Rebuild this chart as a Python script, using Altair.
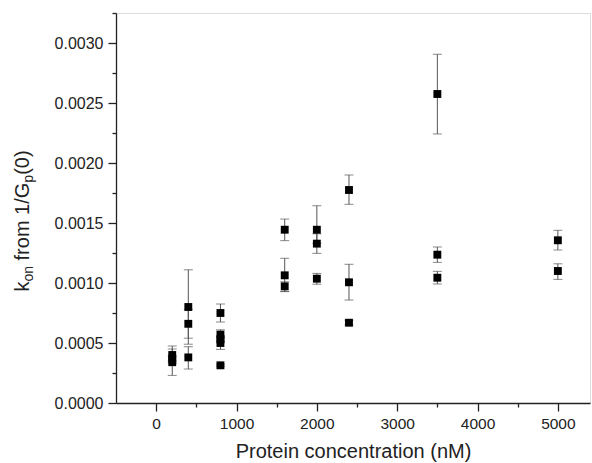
import altair as alt
import pandas as pd

conc = [200, 200, 200, 400, 400, 400, 800, 800, 800, 800, 800,
        1600, 1600, 1600, 2000, 2000, 2000, 2400, 2400, 2400,
        3500, 3500, 3500, 5000, 5000]
kon = [0.00040, 0.00037, 0.00034, 0.00080, 0.00066, 0.00038,
       0.00075, 0.00057, 0.00053, 0.00050, 0.000314,
       0.001444, 0.001064, 0.000972, 0.001444, 0.001328, 0.001036,
       0.001775, 0.001006, 0.000669, 0.002575, 0.001236, 0.001044,
       0.001356, 0.00110]
kon_lo = [0.00033, 0.00035, 0.00023, 0.00049, 0.00054, 0.000283,
          0.000675, 0.00054, 0.00051, 0.000447, 0.000305,
          0.001353, 0.00093, 0.000928, 0.00133, 0.001247, 0.00099,
          0.001656, 0.000858, 0.00065, 0.002242, 0.001172, 0.000992,
          0.001275, 0.00103]
kon_hi = [0.000475, 0.00039, 0.00045, 0.00111, 0.00078, 0.000469,
          0.000825, 0.00061, 0.00056, 0.00055, 0.000323,
          0.001533, 0.001206, 0.00101, 0.001644, 0.00141, 0.00108,
          0.0019, 0.001156, 0.00069, 0.002906, 0.0013, 0.001097,
          0.001439, 0.00116]

x_major = [0, 1000, 2000, 3000, 4000, 5000]
x_minor = [500, 1500, 2500, 3500, 4500]
y_major = [0.0, 0.0005, 0.0010, 0.0015, 0.0020, 0.0025, 0.0030]
y_minor = [0.00025, 0.00075, 0.00125, 0.00175, 0.00225, 0.00275, 0.00325]

df = pd.DataFrame({"conc": conc, "kon": kon, "lo": kon_lo, "hi": kon_hi})

FONT = "Liberation Sans"
xs = alt.Scale(domain=[-500, 5400], nice=False, zero=False)
ys = alt.Scale(domain=[0, 0.00325], nice=False, zero=False)

base = alt.Chart(df)

x_major_axis = alt.Axis(orient="bottom", values=x_major, format="d", tickSize=8,
                        tickWidth=1.3, domainWidth=1.3, domainColor="#222",
                        tickColor="#222", labelFontSize=15.5, labelFont=FONT,
                        labelColor="#222", labelPadding=5,
                        title="Protein concentration (nM)", titleFont=FONT,
                        titleFontSize=20, titleFontWeight="normal", titleColor="#222",
                        titlePadding=10, grid=False, labelFlush=False)
y_major_axis = alt.Axis(orient="left", values=y_major, format=".4f", tickSize=8,
                        tickWidth=1.3, domainWidth=1.3, domainColor="#222",
                        tickColor="#222", labelFontSize=16, labelFont=FONT,
                        labelColor="#222", labelPadding=5, title=None, grid=False,
                        labelFlush=False)
x_minor_axis = alt.Axis(orient="bottom", values=x_minor, tickSize=4, tickWidth=1.3,
                        domain=False, tickColor="#222", labels=False, title=None, grid=False)
y_minor_axis = alt.Axis(orient="left", values=y_minor, tickSize=4, tickWidth=1.3,
                        domain=False, tickColor="#222", labels=False, title=None, grid=False)

points = base.mark_square(size=62, color="black", opacity=1).encode(
    x=alt.X("conc:Q", scale=xs, axis=x_major_axis),
    y=alt.Y("kon:Q", scale=ys, axis=y_major_axis),
)
rules = base.mark_rule(color="#555", strokeWidth=1).encode(
    x=alt.X("conc:Q", scale=xs, axis=x_minor_axis),
    y=alt.Y("lo:Q", scale=ys, axis=y_minor_axis),
    y2="hi:Q",
)
cap_lo = base.mark_tick(color="#555", orient="horizontal", size=9, thickness=1).encode(
    x=alt.X("conc:Q", scale=xs, axis=None),
    y=alt.Y("lo:Q", scale=ys, axis=None),
)
cap_hi = base.mark_tick(color="#555", orient="horizontal", size=9, thickness=1).encode(
    x=alt.X("conc:Q", scale=xs, axis=None),
    y=alt.Y("hi:Q", scale=ys, axis=None),
)

# Y-axis title with subscripts, built from text pieces (rotated)
dummy = alt.Chart(pd.DataFrame({"a": [0]}))
F = 20
FS = 14
XB = 29 - 116  # baseline x relative to plot left
# (text, font size, baseline shift, advance in em)
pieces = [("k", F, 0, 0.5), ("on", FS, 4, 1.112), ("from 1/G", F, 0, 3.89),
          ("p", FS, 4, 0.556), ("(0)", F, 0, 1.222)]
gaps = [0, 0, 0.278 * F, 0, 0]
total = sum(w * s for _, s, _, w in pieces) + sum(gaps)
ypos = 208 + total / 2
title_layers = []
for (t, s, off, w), g in zip(pieces, gaps):
    ypos -= g
    title_layers.append(
        dummy.mark_text(text=t, font=FONT, fontSize=s, angle=270, align="left",
                        baseline="alphabetic", color="#222").encode(
            x=alt.value(XB + off), y=alt.value(ypos))
    )
    ypos -= w * s

chart = alt.layer(rules, cap_lo, cap_hi, points, *title_layers).resolve_axis(
    x="independent", y="independent"
).properties(
    width=474, height=390,
    autosize=alt.AutoSizeParams(type="none"),
    padding={"left": 116, "top": 13, "right": 2, "bottom": 60},
).configure_view(stroke=None).configure(background="white")

chart.save("out.html", embed_options={"renderer": "svg", "actions": False})
